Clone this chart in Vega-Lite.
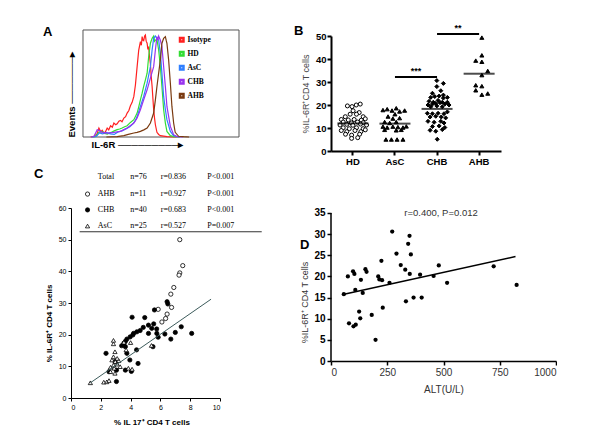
{
"$schema": "https://vega.github.io/schema/vega-lite/v6.json",
"padding": {"left": 34, "top": 23, "right": 0, "bottom": 0},
"background": "white",
"columns": 2,
"align": "each",
"bounds": "flush",
"spacing": {"row": 57, "column": 92},
"resolve": {"scale": {"color": "independent", "shape": "independent", "fill": "independent"}},
"config": {
  "view": {"stroke": null},
  "font": "Liberation Sans",
  "axis": {"grid": false, "labelOverlap": false, "domainColor": "black", "tickColor": "black", "labelColor": "black", "titleColor": "black"},
  "title": {"font": "Liberation Sans", "fontSize": 13, "fontWeight": "bold", "anchor": "start", "frame": "group", "offset": 0, "color": "black"}
},
"datasets": {
  "hist": [
    {"g":"Isotype","x":5,"y":0},{"g":"Isotype","x":7,"y":0.7},{"g":"Isotype","x":9,"y":3},{"g":"Isotype","x":10.2,"y":8.8},{"g":"Isotype","x":11.5,"y":5},{"g":"Isotype","x":12.3,"y":6.5},{"g":"Isotype","x":13.5,"y":3.5},{"g":"Isotype","x":14.5,"y":5.5},{"g":"Isotype","x":15.5,"y":8.8},{"g":"Isotype","x":16.5,"y":7},{"g":"Isotype","x":17.7,"y":11},{"g":"Isotype","x":18.8,"y":9.5},{"g":"Isotype","x":19.8,"y":13.7},{"g":"Isotype","x":21,"y":12},{"g":"Isotype","x":21.9,"y":13},{"g":"Isotype","x":23,"y":15.5},{"g":"Isotype","x":24,"y":16.3},{"g":"Isotype","x":25,"y":15},{"g":"Isotype","x":26.2,"y":18.6},{"g":"Isotype","x":27.3,"y":20},{"g":"Isotype","x":28.3,"y":23.5},{"g":"Isotype","x":29.4,"y":26},{"g":"Isotype","x":30.4,"y":30.6},{"g":"Isotype","x":31.5,"y":34},{"g":"Isotype","x":32.6,"y":39.8},{"g":"Isotype","x":33.6,"y":51},{"g":"Isotype","x":34.7,"y":69},{"g":"Isotype","x":35.7,"y":85},{"g":"Isotype","x":36.8,"y":93.6},{"g":"Isotype","x":37.4,"y":90},{"g":"Isotype","x":37.9,"y":98.5},{"g":"Isotype","x":38.4,"y":95},{"g":"Isotype","x":38.9,"y":94.5},{"g":"Isotype","x":39.5,"y":99},{"g":"Isotype","x":40,"y":100},{"g":"Isotype","x":40.5,"y":94},{"g":"Isotype","x":41.1,"y":92},{"g":"Isotype","x":41.6,"y":86},{"g":"Isotype","x":42.1,"y":88.7},{"g":"Isotype","x":42.6,"y":80},{"g":"Isotype","x":43.2,"y":72},{"g":"Isotype","x":43.7,"y":60},{"g":"Isotype","x":44.3,"y":49.6},{"g":"Isotype","x":44.8,"y":38},{"g":"Isotype","x":45.3,"y":26.7},{"g":"Isotype","x":45.9,"y":18},{"g":"Isotype","x":46.4,"y":12},{"g":"Isotype","x":47.4,"y":4.6},{"g":"Isotype","x":48.5,"y":2.5},{"g":"Isotype","x":49.6,"y":1.3},{"g":"Isotype","x":53.8,"y":0.3},{"g":"Isotype","x":60,"y":0},
    {"g":"HD","x":6,"y":0},{"g":"HD","x":8.1,"y":0.5},{"g":"HD","x":10.2,"y":4.6},{"g":"HD","x":12.3,"y":5.5},{"g":"HD","x":14,"y":3.5},{"g":"HD","x":15.5,"y":2.9},{"g":"HD","x":18,"y":4.5},{"g":"HD","x":20,"y":6},{"g":"HD","x":21.9,"y":7.2},{"g":"HD","x":23.5,"y":7.8},{"g":"HD","x":25.1,"y":8.8},{"g":"HD","x":26.7,"y":10},{"g":"HD","x":28.3,"y":11},{"g":"HD","x":30.4,"y":14.3},{"g":"HD","x":32.6,"y":17},{"g":"HD","x":34.7,"y":23.5},{"g":"HD","x":35.8,"y":30},{"g":"HD","x":36.8,"y":36.5},{"g":"HD","x":37.9,"y":43},{"g":"HD","x":38.9,"y":49.6},{"g":"HD","x":40,"y":56},{"g":"HD","x":41.1,"y":62.6},{"g":"HD","x":42.1,"y":79},{"g":"HD","x":43.2,"y":92},{"g":"HD","x":44.3,"y":96.8},{"g":"HD","x":45.3,"y":99},{"g":"HD","x":45.9,"y":94},{"g":"HD","x":46.4,"y":95},{"g":"HD","x":47.4,"y":95.8},{"g":"HD","x":48.5,"y":85.4},{"g":"HD","x":49.6,"y":69},{"g":"HD","x":50.6,"y":49.6},{"g":"HD","x":51.7,"y":26.7},{"g":"HD","x":52.8,"y":13.7},{"g":"HD","x":53.8,"y":5.5},{"g":"HD","x":56,"y":1.3},{"g":"HD","x":58.1,"y":0.3},{"g":"HD","x":62,"y":0},
    {"g":"AsC","x":6,"y":0},{"g":"AsC","x":8.5,"y":0.5},{"g":"AsC","x":10.5,"y":4},{"g":"AsC","x":12.5,"y":3},{"g":"AsC","x":15,"y":4.5},{"g":"AsC","x":17.5,"y":3},{"g":"AsC","x":20,"y":2.5},{"g":"AsC","x":22.5,"y":5},{"g":"AsC","x":25,"y":6},{"g":"AsC","x":27.5,"y":8},{"g":"AsC","x":30,"y":10},{"g":"AsC","x":32,"y":13},{"g":"AsC","x":33.5,"y":16},{"g":"AsC","x":34.7,"y":20},{"g":"AsC","x":36.8,"y":30},{"g":"AsC","x":38.9,"y":39.8},{"g":"AsC","x":41.1,"y":52.8},{"g":"AsC","x":43.2,"y":69},{"g":"AsC","x":44.3,"y":85.4},{"g":"AsC","x":45.3,"y":96.8},{"g":"AsC","x":46.4,"y":99},{"g":"AsC","x":47.4,"y":96.8},{"g":"AsC","x":48.5,"y":95},{"g":"AsC","x":49.6,"y":82},{"g":"AsC","x":50.6,"y":62.6},{"g":"AsC","x":51.7,"y":39.8},{"g":"AsC","x":52.8,"y":27},{"g":"AsC","x":53.8,"y":17},{"g":"AsC","x":56,"y":5.5},{"g":"AsC","x":58.1,"y":1.3},{"g":"AsC","x":62,"y":0},
    {"g":"CHB","x":5,"y":0},{"g":"CHB","x":7,"y":0.5},{"g":"CHB","x":9.1,"y":7.2},{"g":"CHB","x":10.2,"y":6.5},{"g":"CHB","x":12.3,"y":4.6},{"g":"CHB","x":15.5,"y":3.9},{"g":"CHB","x":19.8,"y":4.6},{"g":"CHB","x":24,"y":5.5},{"g":"CHB","x":28.3,"y":8.8},{"g":"CHB","x":32.6,"y":13.7},{"g":"CHB","x":34.7,"y":18.6},{"g":"CHB","x":36.8,"y":26.7},{"g":"CHB","x":38.9,"y":36.5},{"g":"CHB","x":41.1,"y":46.3},{"g":"CHB","x":43.2,"y":57.7},{"g":"CHB","x":45.3,"y":69},{"g":"CHB","x":46.4,"y":85.4},{"g":"CHB","x":47.4,"y":98.5},{"g":"CHB","x":48,"y":95},{"g":"CHB","x":48.5,"y":99},{"g":"CHB","x":49.6,"y":95},{"g":"CHB","x":50.6,"y":88.7},{"g":"CHB","x":51.7,"y":69},{"g":"CHB","x":52.8,"y":49.6},{"g":"CHB","x":53.8,"y":30},{"g":"CHB","x":56,"y":10.4},{"g":"CHB","x":58.1,"y":2.3},{"g":"CHB","x":60.2,"y":0.3},{"g":"CHB","x":64,"y":0},
    {"g":"AHB","x":15,"y":0},{"g":"AHB","x":21.9,"y":0.3},{"g":"AHB","x":26.2,"y":1.3},{"g":"AHB","x":29,"y":2.5},{"g":"AHB","x":32.6,"y":3.9},{"g":"AHB","x":34.7,"y":4.5},{"g":"AHB","x":36.8,"y":5.5},{"g":"AHB","x":39,"y":7},{"g":"AHB","x":41.1,"y":8.8},{"g":"AHB","x":43.2,"y":13.7},{"g":"AHB","x":45.3,"y":23.5},{"g":"AHB","x":46.4,"y":36.5},{"g":"AHB","x":47.4,"y":49.6},{"g":"AHB","x":48.5,"y":62.6},{"g":"AHB","x":49.6,"y":75.6},{"g":"AHB","x":50.6,"y":92},{"g":"AHB","x":51.7,"y":96.8},{"g":"AHB","x":52.8,"y":98.5},{"g":"AHB","x":53.3,"y":95},{"g":"AHB","x":53.8,"y":92},{"g":"AHB","x":54.9,"y":75.6},{"g":"AHB","x":56,"y":52.8},{"g":"AHB","x":57,"y":30},{"g":"AHB","x":58.1,"y":13.7},{"g":"AHB","x":59.1,"y":4.6},{"g":"AHB","x":61.3,"y":0.7},{"g":"AHB","x":64.5,"y":0.3},{"g":"AHB","x":68,"y":0}
  ],
  "bpts": [
    {"group":"HD","jit":-0.26,"val":19.6},{"group":"HD","jit":-0.04,"val":19.3},{"group":"HD","jit":0.16,"val":20.0},{"group":"HD","jit":0.35,"val":20.4},{"group":"HD","jit":0.01,"val":17.5},{"group":"HD","jit":0.3,"val":16.7},{"group":"HD","jit":-0.13,"val":16.0},{"group":"HD","jit":0.17,"val":16.0},{"group":"HD","jit":-0.36,"val":14.9},{"group":"HD","jit":0.49,"val":14.9},{"group":"HD","jit":-0.55,"val":13.7},{"group":"HD","jit":-0.22,"val":13.5},{"group":"HD","jit":0.06,"val":13.7},{"group":"HD","jit":0.4,"val":13.4},{"group":"HD","jit":0.59,"val":14.0},{"group":"HD","jit":-0.46,"val":12.6},{"group":"HD","jit":-0.07,"val":12.2},{"group":"HD","jit":0.22,"val":12.6},{"group":"HD","jit":0.49,"val":12.3},{"group":"HD","jit":-0.61,"val":11.3},{"group":"HD","jit":-0.29,"val":11.6},{"group":"HD","jit":0,"val":11.2},{"group":"HD","jit":0.36,"val":11.7},{"group":"HD","jit":0.65,"val":11.3},{"group":"HD","jit":-0.46,"val":10.1},{"group":"HD","jit":-0.17,"val":9.7},{"group":"HD","jit":0.17,"val":10.1},{"group":"HD","jit":0.49,"val":9.7},{"group":"HD","jit":-0.55,"val":8.9},{"group":"HD","jit":-0.29,"val":8.4},{"group":"HD","jit":0.1,"val":8.9},{"group":"HD","jit":0.38,"val":8.4},{"group":"HD","jit":0.59,"val":9.2},{"group":"HD","jit":-0.35,"val":7.3},{"group":"HD","jit":-0.06,"val":6.9},{"group":"HD","jit":0.32,"val":7.3},{"group":"HD","jit":-0.06,"val":5.5},{"group":"HD","jit":0.23,"val":5.8},
    {"group":"AsC","jit":-0.57,"val":17.8},{"group":"AsC","jit":-0.37,"val":18.2},{"group":"AsC","jit":-0.14,"val":17.6},{"group":"AsC","jit":0.06,"val":18.6},{"group":"AsC","jit":0.22,"val":17.2},{"group":"AsC","jit":0.46,"val":17.6},{"group":"AsC","jit":0,"val":16.0},{"group":"AsC","jit":-0.33,"val":15.0},{"group":"AsC","jit":-0.1,"val":14.1},{"group":"AsC","jit":0.22,"val":14.3},{"group":"AsC","jit":-0.49,"val":12.6},{"group":"AsC","jit":-0.25,"val":12.2},{"group":"AsC","jit":0.06,"val":12.6},{"group":"AsC","jit":-0.57,"val":10.6},{"group":"AsC","jit":-0.37,"val":10.2},{"group":"AsC","jit":-0.1,"val":10.6},{"group":"AsC","jit":0.14,"val":10.4},{"group":"AsC","jit":0.38,"val":10.2},{"group":"AsC","jit":0.54,"val":10.7},{"group":"AsC","jit":-0.49,"val":9.2},{"group":"AsC","jit":0.06,"val":9.0},{"group":"AsC","jit":0.3,"val":9.2},{"group":"AsC","jit":-0.43,"val":5.0},{"group":"AsC","jit":-0.17,"val":5.0},{"group":"AsC","jit":0.1,"val":5.0},{"group":"AsC","jit":0.38,"val":5.0},
    {"group":"CHB","jit":-0.01,"val":30.6},{"group":"CHB","jit":0.3,"val":29.4},{"group":"CHB","jit":-0.01,"val":28.0},{"group":"CHB","jit":0.18,"val":26.2},{"group":"CHB","jit":-0.22,"val":25.1},{"group":"CHB","jit":0.3,"val":24.3},{"group":"CHB","jit":-0.3,"val":23.3},{"group":"CHB","jit":-0.11,"val":23.7},{"group":"CHB","jit":0.1,"val":23.9},{"group":"CHB","jit":0.3,"val":23.0},{"group":"CHB","jit":0.49,"val":23.3},{"group":"CHB","jit":-0.38,"val":21.6},{"group":"CHB","jit":-0.18,"val":21.2},{"group":"CHB","jit":0.05,"val":22.0},{"group":"CHB","jit":0.25,"val":21.2},{"group":"CHB","jit":0.49,"val":21.2},{"group":"CHB","jit":-0.43,"val":20.0},{"group":"CHB","jit":-0.22,"val":20.4},{"group":"CHB","jit":-0.06,"val":20.7},{"group":"CHB","jit":0.14,"val":21.0},{"group":"CHB","jit":0.37,"val":20.4},{"group":"CHB","jit":0.57,"val":20.0},{"group":"CHB","jit":-0.3,"val":19.2},{"group":"CHB","jit":-0.01,"val":19.6},{"group":"CHB","jit":0.25,"val":19.2},{"group":"CHB","jit":-0.46,"val":16.4},{"group":"CHB","jit":-0.22,"val":16.2},{"group":"CHB","jit":0.05,"val":16.4},{"group":"CHB","jit":0.33,"val":16.2},{"group":"CHB","jit":0.49,"val":17.0},{"group":"CHB","jit":-0.33,"val":14.8},{"group":"CHB","jit":-0.06,"val":15.1},{"group":"CHB","jit":0.2,"val":14.8},{"group":"CHB","jit":0.41,"val":14.4},{"group":"CHB","jit":-0.43,"val":12.9},{"group":"CHB","jit":-0.14,"val":12.5},{"group":"CHB","jit":0.18,"val":12.9},{"group":"CHB","jit":0.33,"val":12.2},{"group":"CHB","jit":-0.22,"val":10.6},{"group":"CHB","jit":0.1,"val":10.9},{"group":"CHB","jit":0.37,"val":10.2},{"group":"CHB","jit":-0.33,"val":9.0},{"group":"CHB","jit":-0.06,"val":8.6},{"group":"CHB","jit":0.25,"val":9.3},{"group":"CHB","jit":0.01,"val":5.1},
    {"group":"AHB","jit":0.13,"val":49.3},{"group":"AHB","jit":0.13,"val":41.6},{"group":"AHB","jit":-0.16,"val":39.3},{"group":"AHB","jit":0.13,"val":38.8},{"group":"AHB","jit":0.41,"val":34.8},{"group":"AHB","jit":0.13,"val":33.0},{"group":"AHB","jit":-0.16,"val":28.6},{"group":"AHB","jit":0.13,"val":28.2},{"group":"AHB","jit":-0.16,"val":26.4},{"group":"AHB","jit":0.13,"val":24.5},{"group":"AHB","jit":0.41,"val":25.0}
  ],
  "bmed": [{"group":"HD","val":12.0},{"group":"AsC","val":11.9},{"group":"CHB","val":18.3},{"group":"AHB","val":33.6}],
  "bsig": [{"from":"AsC","to":"CHB","y":32.2,"label":"***"},{"from":"CHB","to":"AHB","y":50.9,"label":"**"}],
  "cpts": [
    {"group":"AHB","il17":7.3,"il6r":50.0},{"group":"AHB","il17":7.5,"il6r":41.8},{"group":"AHB","il17":7.3,"il6r":39.5},{"group":"AHB","il17":7.25,"il6r":38.8},{"group":"AHB","il17":6.9,"il6r":34.9},{"group":"AHB","il17":6.7,"il6r":32.8},{"group":"AHB","il17":6.75,"il6r":28.6},{"group":"AHB","il17":6.45,"il6r":26.5},{"group":"AHB","il17":6.35,"il6r":25.1},{"group":"AHB","il17":6.1,"il6r":24.0},{"group":"AHB","il17":5.85,"il6r":28.0},
    {"group":"CHB","il17":2.35,"il6r":14.1},{"group":"CHB","il17":2.55,"il6r":8.3},{"group":"CHB","il17":3.05,"il6r":5.2},{"group":"CHB","il17":2.95,"il6r":11.5},{"group":"CHB","il17":3.05,"il6r":8.8},{"group":"CHB","il17":3.4,"il6r":16.5},{"group":"CHB","il17":3.55,"il6r":17.3},{"group":"CHB","il17":3.65,"il6r":17.9},{"group":"CHB","il17":3.75,"il6r":18.6},{"group":"CHB","il17":3.65,"il6r":16.2},{"group":"CHB","il17":3.75,"il6r":14.1},{"group":"CHB","il17":3.65,"il6r":8.8},{"group":"CHB","il17":3.95,"il6r":12.0},{"group":"CHB","il17":3.97,"il6r":19.3},{"group":"CHB","il17":4.05,"il6r":8.4},{"group":"CHB","il17":4.1,"il6r":25.5},{"group":"CHB","il17":4.15,"il6r":19.9},{"group":"CHB","il17":4.2,"il6r":20.4},{"group":"CHB","il17":4.4,"il6r":15.2},{"group":"CHB","il17":4.42,"il6r":20.9},{"group":"CHB","il17":4.5,"il6r":10.9},{"group":"CHB","il17":4.64,"il6r":21.3},{"group":"CHB","il17":4.85,"il6r":22.3},{"group":"CHB","il17":4.95,"il6r":25.4},{"group":"CHB","il17":5.2,"il6r":23.0},{"group":"CHB","il17":5.2,"il6r":20.4},{"group":"CHB","il17":5.42,"il6r":22.0},{"group":"CHB","il17":5.5,"il6r":16.2},{"group":"CHB","il17":5.55,"il6r":23.4},{"group":"CHB","il17":5.6,"il6r":27.8},{"group":"CHB","il17":5.76,"il6r":20.4},{"group":"CHB","il17":5.85,"il6r":19.2},{"group":"CHB","il17":5.75,"il6r":21.8},{"group":"CHB","il17":6.3,"il6r":20.2},{"group":"CHB","il17":6.45,"il6r":30.4},{"group":"CHB","il17":6.5,"il6r":29.7},{"group":"CHB","il17":6.7,"il6r":18.6},{"group":"CHB","il17":7.0,"il6r":20.7},{"group":"CHB","il17":7.4,"il6r":22.5},{"group":"CHB","il17":8.1,"il6r":20.4},
    {"group":"AsC","il17":1.3,"il6r":4.8},{"group":"AsC","il17":2.2,"il6r":5.0},{"group":"AsC","il17":2.4,"il6r":5.1},{"group":"AsC","il17":2.55,"il6r":5.5},{"group":"AsC","il17":2.65,"il6r":8.3},{"group":"AsC","il17":2.95,"il6r":7.8},{"group":"AsC","il17":2.65,"il6r":9.7},{"group":"AsC","il17":2.9,"il6r":9.4},{"group":"AsC","il17":2.85,"il6r":10.4},{"group":"AsC","il17":3.1,"il6r":10.7},{"group":"AsC","il17":3.3,"il6r":9.9},{"group":"AsC","il17":2.75,"il6r":12.0},{"group":"AsC","il17":2.97,"il6r":11.5},{"group":"AsC","il17":3.2,"il6r":11.8},{"group":"AsC","il17":2.85,"il6r":13.0},{"group":"AsC","il17":3.1,"il6r":12.5},{"group":"AsC","il17":2.95,"il6r":14.6},{"group":"AsC","il17":2.85,"il6r":17.1},{"group":"AsC","il17":2.85,"il6r":18.2},{"group":"AsC","il17":3.55,"il6r":17.6},{"group":"AsC","il17":4.0,"il6r":17.5},{"group":"AsC","il17":3.7,"il6r":15.2},{"group":"AsC","il17":3.85,"il6r":9.4},{"group":"AsC","il17":4.1,"il6r":9.1},{"group":"AsC","il17":5.4,"il6r":16.6}
  ],
  "cline": [{"il17":1.3,"il6r":4.8},{"il17":9.4,"il6r":31.2}],
  "ctable": [
    {"group":"Total","n":"n=76","r":"r=0.836","p":"P<0.001","row":69.7},
    {"group":"AHB","n":"n=11","r":"r=0.927","p":"P<0.001","row":64.4},
    {"group":"CHB","n":"n=40","r":"r=0.683","p":"P<0.001","row":59.4},
    {"group":"AsC","n":"n=25","r":"r=0.527","p":"P=0.007","row":54.3}
  ],
  "dpts": [
    {"alt":57,"il6r":15.8},{"alt":75,"il6r":20.0},{"alt":80,"il6r":8.9},{"alt":98,"il6r":21.2},{"alt":100,"il6r":8.2},{"alt":104,"il6r":20.6},{"alt":108,"il6r":16.8},{"alt":110,"il6r":8.6},{"alt":125,"il6r":11.7},{"alt":130,"il6r":10.1},{"alt":133,"il6r":19.2},{"alt":141,"il6r":16.1},{"alt":153,"il6r":21.7},{"alt":158,"il6r":21.1},{"alt":181,"il6r":10.9},{"alt":198,"il6r":5.0},{"alt":210,"il6r":20.0},{"alt":215,"il6r":19.3},{"alt":224,"il6r":23.7},{"alt":227,"il6r":19.1},{"alt":230,"il6r":12.6},{"alt":260,"il6r":18.5},{"alt":272,"il6r":30.6},{"alt":291,"il6r":25.4},{"alt":310,"il6r":22.7},{"alt":330,"il6r":21.6},{"alt":333,"il6r":14.1},{"alt":343,"il6r":27.7},{"alt":349,"il6r":29.6},{"alt":350,"il6r":20.6},{"alt":355,"il6r":25.2},{"alt":367,"il6r":15.0},{"alt":396,"il6r":20.4},{"alt":403,"il6r":15.0},{"alt":456,"il6r":20.1},{"alt":479,"il6r":22.6},{"alt":516,"il6r":18.5},{"alt":723,"il6r":22.4},{"alt":825,"il6r":18.0}
  ],
  "dline": [{"alt":58,"il6r":15.8},{"alt":820,"il6r":24.7}]
},
"concat": [
  {
    "title": {"text": "A", "dx": -28, "dy": 14},
    "width": 168, "height": 101,
    "layer": [
      {
        "data": {"values": [{}]},
        "mark": {"type": "rect", "fill": "transparent", "stroke": "#555555", "strokeWidth": 1},
        "encoding": {"x": {"datum": 0}, "x2": {"datum": 100}, "y": {"datum": 0}, "y2": {"datum": 105}}
      },
      {
        "data": {"name": "hist"},
        "mark": {"type": "line", "strokeWidth": 1.2},
        "encoding": {
          "x": {"field": "x", "type": "quantitative", "scale": {"domain": [-7.69, 100], "nice": false, "zero": false},
                "axis": {"domain": false, "ticks": false, "labels": false, "title": "IL-6R     ─────────▸", "titleFontSize": 9.5, "titleFontWeight": "bold", "titleAnchor": "start", "titleAlign": "left", "titleX": 20, "titlePadding": 2, "titleBaseline": "top"}},
          "y": {"field": "y", "type": "quantitative", "scale": {"domain": [0, 99.1], "nice": false, "zero": false},
                "axis": {"domain": false, "ticks": false, "labels": false, "title": "Events     ───────▸", "titleFontSize": 9.5, "titleFontWeight": "bold", "titleAnchor": "start", "titleAlign": "left", "titleY": 101, "titleX": 5.5, "titleBaseline": "bottom"}},
          "color": {"field": "g", "type": "nominal", "sort": null,
                    "scale": {"domain": ["Isotype", "HD", "AsC", "CHB", "AHB"], "range": ["#ff2020", "#33dd33", "#2f7fff", "#9933ee", "#7a3a10"]},
                    "legend": {"orient": "none", "legendX": 107, "legendY": 0, "title": null, "symbolType": "square", "symbolSize": 12, "symbolStrokeWidth": 2.5, "labelFont": "Liberation Serif", "labelFontSize": 7.5, "labelFontWeight": "bold", "rowPadding": 0, "padding": 0, "labelOffset": 2, "labelColor": "black"}}
        }
      }
    ]
  },
  {
    "title": {"text": "B", "dx": -37, "dy": 18},
    "width": 170, "height": 115,
    "layer": [
      {
        "data": {"name": "bpts"},
        "mark": {"type": "point", "filled": true, "size": 16, "strokeWidth": 1, "opacity": 1},
        "encoding": {
          "x": {"field": "group", "type": "nominal", "sort": null, "title": null,
                "scale": {"type": "band", "domain": ["HD", "AsC", "CHB", "AHB"], "paddingInner": 0, "paddingOuter": 0.02},
                "axis": {"labelAngle": 0, "domainWidth": 2, "tickWidth": 2, "tickSize": 4, "labelFontWeight": "bold", "labelFontSize": 9.5, "labelPadding": 1}},
          "xOffset": {"field": "jit", "type": "quantitative", "scale": {"domain": [-1, 1]}},
          "y": {"field": "val", "type": "quantitative", "title": "%IL-6R⁺CD4 T cells", "scale": {"domain": [0, 50], "nice": false},
                "axis": {"values": [0, 10, 20, 30, 40, 50], "tickCount": 20, "format": "d", "domainWidth": 2, "tickWidth": 2, "tickSize": 4, "labelFontWeight": "bold", "labelFontSize": 9.5, "labelPadding": 1, "titleFontWeight": "normal", "titleFontSize": 9, "titleColor": "#444444", "titlePadding": 5}},
          "shape": {"field": "group", "type": "nominal", "scale": {"domain": ["HD", "AsC", "CHB", "AHB"], "range": ["circle", "triangle-up", "diamond", "triangle-up"]}, "legend": null},
          "fill": {"field": "group", "type": "nominal", "scale": {"domain": ["HD", "AsC", "CHB", "AHB"], "range": ["white", "black", "black", "black"]}, "legend": null},
          "stroke": {"value": "black"}
        }
      },
      {
        "data": {"name": "bmed"},
        "mark": {"type": "tick", "size": 31, "thickness": 2, "color": "black"},
        "encoding": {
          "x": {"field": "group", "type": "nominal", "title": null},
          "y": {"field": "val", "type": "quantitative", "title": "%IL-6R⁺CD4 T cells"}
        }
      },
      {
        "data": {"name": "bsig"},
        "mark": {"type": "rule", "strokeWidth": 2, "color": "black"},
        "encoding": {
          "x": {"field": "from", "type": "nominal", "title": null},
          "x2": {"field": "to"},
          "y": {"field": "y", "type": "quantitative", "title": "%IL-6R⁺CD4 T cells"}
        }
      },
      {
        "data": {"name": "bsig"},
        "mark": {"type": "text", "fontWeight": "bold", "fontSize": 9, "baseline": "bottom", "dy": -1},
        "encoding": {
          "x": {"field": "from", "type": "nominal", "title": null},
          "xOffset": {"datum": 1},
          "y": {"field": "y", "type": "quantitative", "title": "%IL-6R⁺CD4 T cells"},
          "text": {"field": "label"}
        }
      }
    ]
  },
  {
    "title": {"text": "C", "dx": -37, "dy": 12},
    "width": 149, "height": 190,
    "layer": [
      {
        "data": {"name": "cpts"},
        "mark": {"type": "point", "filled": true, "size": 18, "strokeWidth": 0.8, "opacity": 1},
        "encoding": {
          "x": {"field": "il17", "type": "quantitative", "title": "% IL 17⁺ CD4 T cells", "scale": {"domain": [0, 10], "nice": false},
                "axis": {"values": [0, 2, 4, 6, 8, 10], "tickCount": 20, "format": "d", "labelFontSize": 7, "tickSize": 3, "labelPadding": 2, "titleFontSize": 8, "titleFontWeight": "bold", "titlePadding": 8, "titleX": 80.5}},
          "y": {"field": "il6r", "type": "quantitative", "title": "% IL-6R⁺ CD4 T cells", "scale": {"domain": [0, 60], "nice": false},
                "axis": {"values": [0, 10, 20, 30, 40, 50, 60], "tickCount": 20, "format": "d", "labelFontSize": 7, "tickSize": 3, "labelPadding": 2, "titleFontSize": 8, "titleFontWeight": "bold", "titlePadding": 5, "titleY": 115}},
          "shape": {"field": "group", "type": "nominal", "scale": {"domain": ["AHB", "CHB", "AsC"], "range": ["circle", "circle", "triangle-up"]}, "legend": null},
          "fill": {"field": "group", "type": "nominal", "scale": {"domain": ["AHB", "CHB", "AsC"], "range": ["white", "black", "white"]}, "legend": null},
          "stroke": {"value": "black"}
        }
      },
      {
        "data": {"name": "cline"},
        "mark": {"type": "line", "color": "#3d5c5c", "strokeWidth": 1},
        "encoding": {
          "x": {"field": "il17", "type": "quantitative", "title": "% IL 17⁺ CD4 T cells"},
          "y": {"field": "il6r", "type": "quantitative", "title": "% IL-6R⁺ CD4 T cells"}
        }
      },
      {
        "data": {"name": "ctable"},
        "transform": [{"filter": "datum.group != 'Total'"}],
        "mark": {"type": "point", "filled": true, "size": 18, "strokeWidth": 0.8, "opacity": 1},
        "encoding": {
          "x": {"datum": 1.11},
          "y": {"field": "row", "type": "quantitative", "title": "% IL-6R⁺ CD4 T cells"},
          "shape": {"field": "group", "type": "nominal", "legend": null},
          "fill": {"field": "group", "type": "nominal", "legend": null},
          "stroke": {"value": "black"}
        }
      },
      {
        "data": {"name": "ctable"},
        "mark": {"type": "text", "font": "Liberation Serif", "fontSize": 8, "align": "left", "baseline": "middle", "color": "black"},
        "encoding": {"x": {"datum": 1.8}, "y": {"field": "row", "type": "quantitative", "title": "% IL-6R⁺ CD4 T cells"}, "text": {"field": "group"}}
      },
      {
        "data": {"name": "ctable"},
        "mark": {"type": "text", "font": "Liberation Serif", "fontSize": 8, "align": "left", "baseline": "middle", "color": "black"},
        "encoding": {"x": {"datum": 3.97}, "y": {"field": "row", "type": "quantitative", "title": "% IL-6R⁺ CD4 T cells"}, "text": {"field": "n"}}
      },
      {
        "data": {"name": "ctable"},
        "mark": {"type": "text", "font": "Liberation Serif", "fontSize": 8, "align": "left", "baseline": "middle", "color": "black"},
        "encoding": {"x": {"datum": 6.03}, "y": {"field": "row", "type": "quantitative", "title": "% IL-6R⁺ CD4 T cells"}, "text": {"field": "r"}}
      },
      {
        "data": {"name": "ctable"},
        "mark": {"type": "text", "font": "Liberation Serif", "fontSize": 8, "align": "left", "baseline": "middle", "color": "black"},
        "encoding": {"x": {"datum": 9.15}, "y": {"field": "row", "type": "quantitative", "title": "% IL-6R⁺ CD4 T cells"}, "text": {"field": "p"}}
      },
      {
        "data": {"values": [{}]},
        "mark": {"type": "rule", "color": "#333333", "strokeWidth": 1},
        "encoding": {"x": {"datum": 0.58}, "x2": {"datum": 12.8}, "y": {"datum": 52.5}}
      }
    ]
  },
  {
    "title": {"text": "D", "dx": -31, "dy": 48},
    "width": 225, "height": 153,
    "layer": [
      {
        "data": {"name": "dpts"},
        "mark": {"type": "circle", "size": 18, "color": "black", "opacity": 1},
        "encoding": {
          "x": {"field": "alt", "type": "quantitative", "title": "ALT(U/L)", "scale": {"domain": [0, 1000], "nice": false},
                "axis": {"values": [0, 250, 500, 750, 1000], "tickCount": 20, "format": "d", "labelFontSize": 10, "labelColor": "#333333", "tickSize": 4, "domainWidth": 1.5, "tickWidth": 1.5, "labelPadding": 2, "titleFontSize": 10, "titleFontWeight": "normal", "titleColor": "#333333", "titlePadding": 7}},
          "y": {"field": "il6r", "type": "quantitative", "title": "%IL-6R⁺ CD4 T cells", "scale": {"domain": [0, 36.18], "nice": false},
                "axis": {"values": [0, 5, 10, 15, 20, 25, 30, 35], "tickCount": 20, "format": "d", "domain": false, "labelFontSize": 10, "labelFontWeight": "bold", "tickSize": 4, "tickWidth": 1.5, "labelPadding": 2, "titleFontSize": 9, "titleFontWeight": "normal", "titleColor": "#333333", "titlePadding": 4, "titleY": 94}}
        }
      },
      {
        "data": {"values": [{}]},
        "mark": {"type": "rule", "color": "black", "strokeWidth": 1.5},
        "encoding": {"x": {"datum": 0}, "y": {"datum": 0}, "y2": {"datum": 35}}
      },
      {
        "data": {"name": "dline"},
        "mark": {"type": "line", "color": "black", "strokeWidth": 1.5},
        "encoding": {
          "x": {"field": "alt", "type": "quantitative", "title": "ALT(U/L)"},
          "y": {"field": "il6r", "type": "quantitative", "title": "%IL-6R⁺ CD4 T cells"}
        }
      },
      {
        "data": {"values": [{"t": "r=0.400, P=0.012"}]},
        "mark": {"type": "text", "fontSize": 9.5, "color": "#333333", "baseline": "middle"},
        "encoding": {"x": {"datum": 489}, "y": {"datum": 35}, "text": {"field": "t"}}
      }
    ]
  }
]
}
